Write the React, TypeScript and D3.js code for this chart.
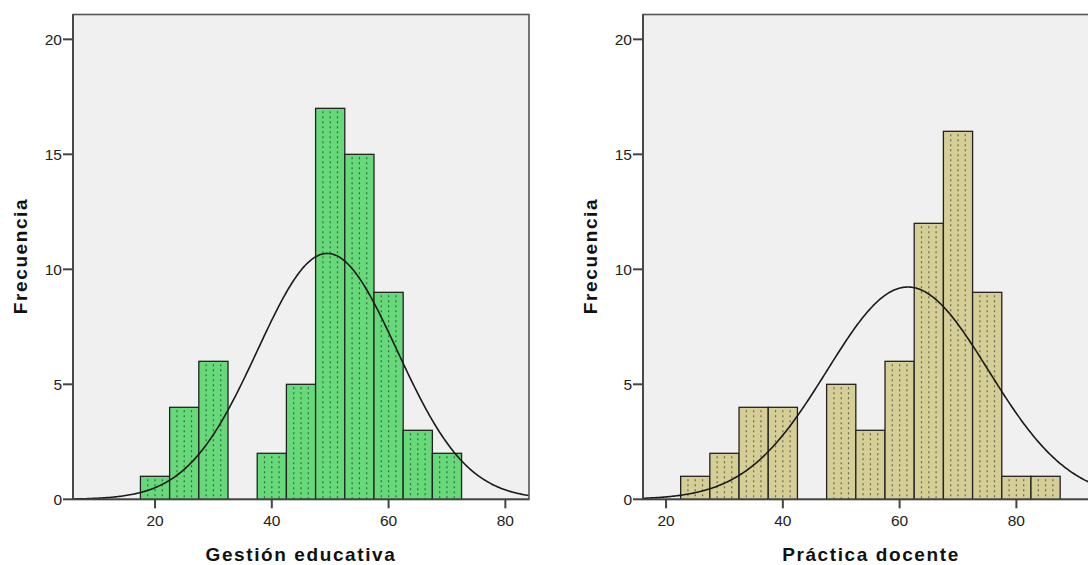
import React from "react";
import * as d3 from "d3";

// bins are 5 units wide; binStarts = lower edge of each bar
const gestionBinStarts = [17.5, 22.5, 27.5, 37.5, 42.5, 47.5, 52.5, 57.5, 62.5, 67.5];
const gestionCounts = [1, 4, 6, 2, 5, 17, 15, 9, 3, 2];
const practicaBinStarts = [22.5, 27.5, 32.5, 37.5, 47.5, 52.5, 57.5, 62.5, 67.5, 72.5, 77.5, 82.5];
const practicaCounts = [1, 2, 4, 4, 5, 3, 6, 12, 16, 9, 1, 1];

const xTicks = [20, 40, 60, 80];
const yTicks = [0, 5, 10, 15, 20];

const BIN = 5;
const N = 64;

const panels = [
  {
    title: "Gestión educativa",
    starts: gestionBinStarts,
    counts: gestionCounts,
    mean: 49.5,
    sd: 11.94,
    xDomain: [5.95, 84.05],
    left: 73,
    fill: "#68d97a",
    dots: "#245e30",
  },
  {
    title: "Práctica docente",
    starts: practicaBinStarts,
    counts: practicaCounts,
    mean: 61.4,
    sd: 13.83,
    xDomain: [16.05, 94.15],
    left: 643,
    fill: "#d5ce96",
    dots: "#5c583c",
  },
];

const W = 456;
const TOP = 14.5;
const BOTTOM = 499.3;

function Panel({ p }: { p: (typeof panels)[number] }) {
  const x = d3.scaleLinear().domain(p.xDomain).range([p.left, p.left + W]);
  const y = d3.scaleLinear().domain([0, 21.08]).range([BOTTOM, TOP]);

  const curvePts = d3.range(p.xDomain[0], p.xDomain[1] + 0.01, 0.25).map((v) => {
    const z = (v - p.mean) / p.sd;
    return [v, (N * BIN * Math.exp(-0.5 * z * z)) / (p.sd * Math.sqrt(2 * Math.PI))];
  });
  const line = d3
    .line<number[]>()
    .x((d) => x(d[0]))
    .y((d) => y(d[1]));

  const cx = p.left + W / 2;

  return (
    <g>
      <rect x={p.left} y={TOP} width={W} height={BOTTOM - TOP} fill="#f0f0f0" stroke="#555" strokeWidth={1.6} />
      {p.starts.map((s, i) => {
        const x0 = x(s);
        const x1 = x(s + BIN);
        const w = x1 - x0;
        return (
          <g key={i}>
            <rect x={x0} y={y(p.counts[i])} width={w} height={y(0) - y(p.counts[i])} fill={p.fill} />
            {[0.25, 0.5, 0.75].map((f) => (
              <line
                key={f}
                x1={x0 + w * f}
                x2={x0 + w * f}
                y1={y(p.counts[i]) + 3}
                y2={y(0)}
                stroke={p.dots}
                strokeWidth={1.2}
                strokeOpacity={0.85}
                strokeDasharray="2,3"
              />
            ))}
            <rect
              x={x0}
              y={y(p.counts[i])}
              width={w}
              height={y(0) - y(p.counts[i])}
              fill="none"
              stroke="#222"
              strokeWidth={1.3}
            />
          </g>
        );
      })}
      <path d={line(curvePts) || ""} fill="none" stroke="#1a1a1a" strokeWidth={1.6} />
      <line x1={p.left} x2={p.left + W} y1={BOTTOM} y2={BOTTOM} stroke="#444" strokeWidth={1.8} />
      <line x1={p.left} x2={p.left} y1={TOP} y2={BOTTOM} stroke="#444" strokeWidth={1.8} />

      {yTicks.map((t) => (
        <g key={t}>
          <line x1={p.left - 10} x2={p.left} y1={y(t)} y2={y(t)} stroke="#444" strokeWidth={2} />
          <text x={p.left - 11} y={y(t)} dy="0.36em" textAnchor="end" fontSize={15.5} fill="#222">
            {t}
          </text>
        </g>
      ))}
      {xTicks.map((t) => (
        <g key={t}>
          <line x1={x(t)} x2={x(t)} y1={BOTTOM} y2={BOTTOM + 9} stroke="#444" strokeWidth={2} />
          <text x={x(t)} y={526} textAnchor="middle" fontSize={15.5} fill="#222">
            {t}
          </text>
        </g>
      ))}
      <text
        transform={`translate(${p.left - 46},256) rotate(-90)`}
        textAnchor="middle"
        fontSize={19}
        fontWeight="bold"
        letterSpacing={1.6}
        fill="#111"
      >
        Frecuencia
      </text>
      <text x={cx} y={561} textAnchor="middle" fontSize={19} fontWeight="bold" letterSpacing={1.6} fill="#111">
        {p.title}
      </text>
    </g>
  );
}

export default function App() {
  return (
    <svg
      width={1088}
      height={565}
      style={{ position: "absolute", left: 0, top: 0, background: "#fff" }}
      fontFamily="'Liberation Sans', Arial, sans-serif"
    >
      {panels.map((p) => (
        <Panel key={p.title} p={p} />
      ))}
    </svg>
  );
}
